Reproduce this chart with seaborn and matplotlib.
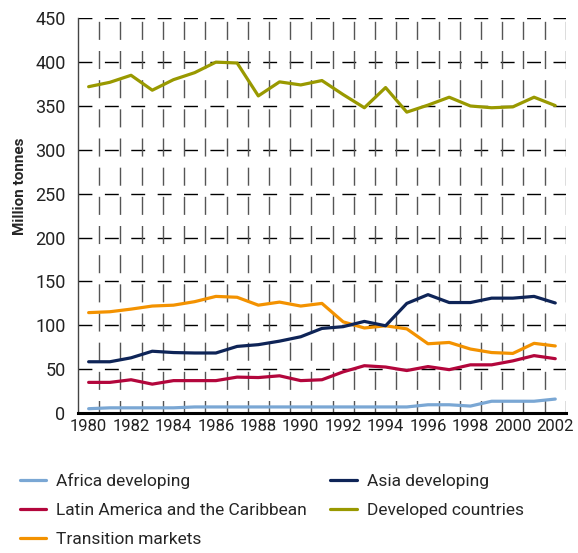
import numpy as np
import pandas as pd
import matplotlib
matplotlib.use("Agg")
import matplotlib.pyplot as plt
import seaborn as sns
from matplotlib.ticker import MultipleLocator

years = list(range(1980, 2003))
africa = [5, 6, 6, 6, 6, 7, 7, 7, 7, 7, 7, 7, 7, 7, 7, 7, 9.5, 9.5, 8, 13.5, 13.5, 13.5, 16]
latin = [35, 35, 38, 33, 37, 37, 37, 41, 40.5, 42.5, 37, 38, 47, 54, 52.5, 48.5, 53, 49.5, 55, 55, 59.5, 65.5, 62]
transition = [114.5, 115.5, 118.5, 122, 123, 127, 133, 132, 123, 126.5, 122, 125, 104, 97, 99.5, 96, 79, 80.5, 73, 69, 68, 79.5, 76.5]
asia = [58.5, 58.5, 63, 70.5, 69, 68.5, 68.5, 76, 78, 82, 87, 96.5, 98.5, 104.5, 99.5, 125, 135, 126, 126, 131, 131, 133, 125.5]
developed = [372, 377, 385, 368, 380, 388, 400, 399, 361.5, 377.5, 374, 379, 363, 348, 371, 343, 351, 360, 350, 348, 349, 360, 350.5]

series = ["Africa developing", "Latin America and the Caribbean", "Transition markets",
          "Asia developing", "Developed countries"]
values = [africa, latin, transition, asia, developed]
colors = ["#7aa7d4", "#b3063c", "#f39200", "#0e2457", "#999900"]

df = pd.concat([pd.DataFrame({"year": years, "value": v, "series": s})
                for s, v in zip(series, values)], ignore_index=True)

sns.set_theme(style="white")
plt.rcParams["font.family"] = ["Roboto", "DejaVu Sans"]

fig = plt.figure(figsize=(5.78, 5.53), dpi=100)
ax = fig.add_axes([0.135, 0.253, 0.844, 0.714])

# grid
for y in range(50, 451, 50):
    ax.axhline(y, color="black", lw=1.0, ls=(0, (10, 9)), zorder=1)
for x in np.arange(1980.5, 2003, 1.0):
    ax.axvline(x, color="#555555", lw=1.0, ls=(4, (13, 8)), zorder=1)

sns.lineplot(data=df, x="year", y="value", hue="series", hue_order=series,
             palette=dict(zip(series, colors)), linewidth=2.3, ax=ax, zorder=3,
             legend=True)

ax.set_xlim(1979.5, 2002.5)
ax.set_ylim(0, 450)
ax.yaxis.set_major_locator(MultipleLocator(50))
ax.set_xticks(range(1980, 2003, 2))
ax.set_xticks(np.arange(1979.5, 2003, 1.0), minor=True)
ax.tick_params(axis="x", which="major", length=0, labelsize=12, pad=4, labelcolor="#222222")
ax.tick_params(axis="x", which="minor", length=6, width=1.2, color="black", direction="out")
ax.tick_params(axis="y", length=7, width=1, color="#444444", labelsize=13, pad=2, labelcolor="#222222")
ax.set_xlabel("")
ax.set_ylabel("Million tonnes", fontsize=11, fontweight="bold")
ax.yaxis.set_label_coords(-0.105, 0.575)

for s in ["top", "right"]:
    ax.spines[s].set_visible(False)
ax.spines["left"].set_color("#444444")
ax.spines["left"].set_linewidth(1)
ax.spines["bottom"].set_color("black")
ax.spines["bottom"].set_linewidth(2.2)

handles, labels = ax.get_legend_handles_labels()
ax.legend(handles, labels, ncol=2, loc="upper left", bbox_to_anchor=(-0.141, -0.126),
          frameon=False, fontsize=12.5, handlelength=1.5, handletextpad=0.58,
          columnspacing=1.38, labelspacing=0.78, borderaxespad=0.2)

fig.savefig("out.png", dpi=100)
